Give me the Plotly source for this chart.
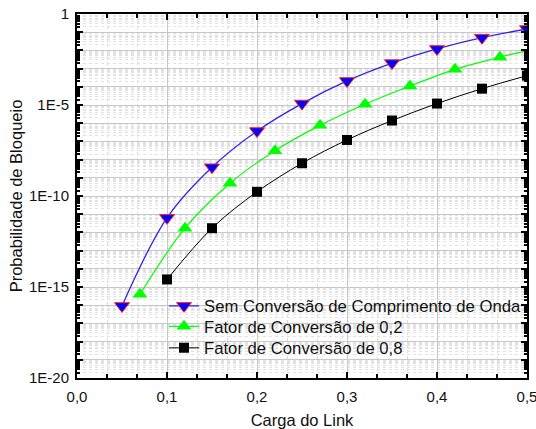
import numpy as np
import plotly.graph_objects as go

# Data
x_sem = [0.05, 0.10, 0.15, 0.20, 0.25, 0.30, 0.35, 0.40, 0.45, 0.50]
y_sem = [9.1e-17, 6.3e-12, 3.8e-9, 3.7e-7, 1.2e-5, 2.1e-4, 2.0e-3, 1.2e-2, 5.0e-2, 1.5e-1]

x_f02 = [0.07, 0.12, 0.17, 0.22, 0.27, 0.32, 0.37, 0.42, 0.47, 0.52]
y_f02 = [4.0e-16, 1.7e-12, 5.0e-10, 3.1e-8, 7.6e-7, 1.1e-5, 1.1e-4, 9.1e-4, 4.2e-3, 1.7e-2]

x_f08 = [0.10, 0.15, 0.20, 0.25, 0.30, 0.35, 0.40, 0.45, 0.50]
y_f08 = [2.6e-15, 1.7e-12, 1.7e-10, 6.3e-9, 1.2e-7, 1.4e-6, 1.2e-5, 7.9e-5, 4.1e-4]

names = ["Sem Conversão de Comprimento de Onda",
         "Fator de Conversão de 0,2",
         "Fator de Conversão de 0,8"]

x_ticks = [0.0, 0.1, 0.2, 0.3, 0.4, 0.5]
y_decades = list(range(0, -21, -1))
y_label_map = {0: "1", -5: "1E-5", -10: "1E-10", -15: "1E-15", -20: "1E-20"}

FONT = "Liberation Sans, Arial, sans-serif"
TXT = "#111111"

fig = go.Figure()
fig.add_trace(go.Scatter(
    x=x_sem, y=y_sem, name=names[0], mode="lines+markers", legend="legend",
    line=dict(color="#3a22e0", width=1.3, shape="spline"),
    marker=dict(symbol="triangle-down", size=13, color="#0000ff",
                line=dict(color="#ff2020", width=1))))
fig.add_trace(go.Scatter(
    x=x_f02, y=y_f02, name=names[1], mode="lines+markers", legend="legend2",
    line=dict(color="#00ff00", width=1.2, shape="spline"),
    marker=dict(symbol="triangle-up", size=13, color="#00ff00",
                line=dict(width=0))))
fig.add_trace(go.Scatter(
    x=x_f08, y=y_f08, name=names[2], mode="lines+markers", legend="legend3",
    line=dict(color="#000000", width=1, shape="spline"),
    marker=dict(symbol="square", size=10, color="#000000",
                line=dict(width=0))))

y_tickvals = [10.0 ** d for d in y_decades]
y_ticktext = [y_label_map.get(d, "") for d in y_decades]
y_minor = [m * 10.0 ** d for d in range(-20, 0) for m in range(2, 10)]

def leg(ypix):
    return dict(x=(164 - 77) / 450, y=(378 - ypix) / 364, xanchor="left", yanchor="middle",
                bgcolor="rgba(0,0,0,0)", borderwidth=0,
                font=dict(family=FONT, size=16.7, color=TXT))

fig.update_layout(
    width=536, height=429,
    margin=dict(l=77, r=9, t=14, b=51, autoexpand=False),
    paper_bgcolor="white", plot_bgcolor="white",
    separators=",.",
    font=dict(family=FONT, size=15, color=TXT),
    showlegend=True,
    legend=leg(306),
    legend2=leg(326.5),
    legend3=leg(348),
    xaxis=dict(
        range=[0, 0.5], tickmode="array", tickvals=x_ticks, automargin=False,
        tickformat=".1f", ticklabelstandoff=4, ticklabeloverflow="allow",
        showline=True, linecolor="black", linewidth=2, mirror="allticks",
        ticks="inside", ticklen=6, tickwidth=1.5, tickcolor="black",
        showgrid=True, gridcolor="#c8c8c8", gridwidth=1,
        zeroline=False,
        title=dict(text="Carga do Link", font=dict(size=16.5, color=TXT), standoff=14),
        minor=dict(dtick=0.1 / 3, ticks="inside", ticklen=4, tickcolor="black",
                   showgrid=True, gridcolor="#dcdcdc", griddash="dot"),
    ),
    yaxis=dict(
        type="log", range=[-20, 0], tickmode="array", automargin=False,
        tickvals=y_tickvals, ticktext=y_ticktext, ticklabelstandoff=3,
        ticklabeloverflow="allow",
        showline=True, linecolor="black", linewidth=2, mirror="allticks",
        ticks="inside", ticklen=6, tickwidth=1.5, tickcolor="black",
        showgrid=True, gridcolor="#c8c8c8", gridwidth=1,
        zeroline=False,
        title=dict(text="Probabilidade de Bloqueio", font=dict(size=16.5, color=TXT), standoff=2),
        minor=dict(tickmode="array", tickvals=y_minor, ticks="inside", ticklen=3,
                   tickcolor="black", showgrid=True, gridcolor="#e2e2e2", griddash="dot"),
    ),
)

fig.write_html("out.html")
